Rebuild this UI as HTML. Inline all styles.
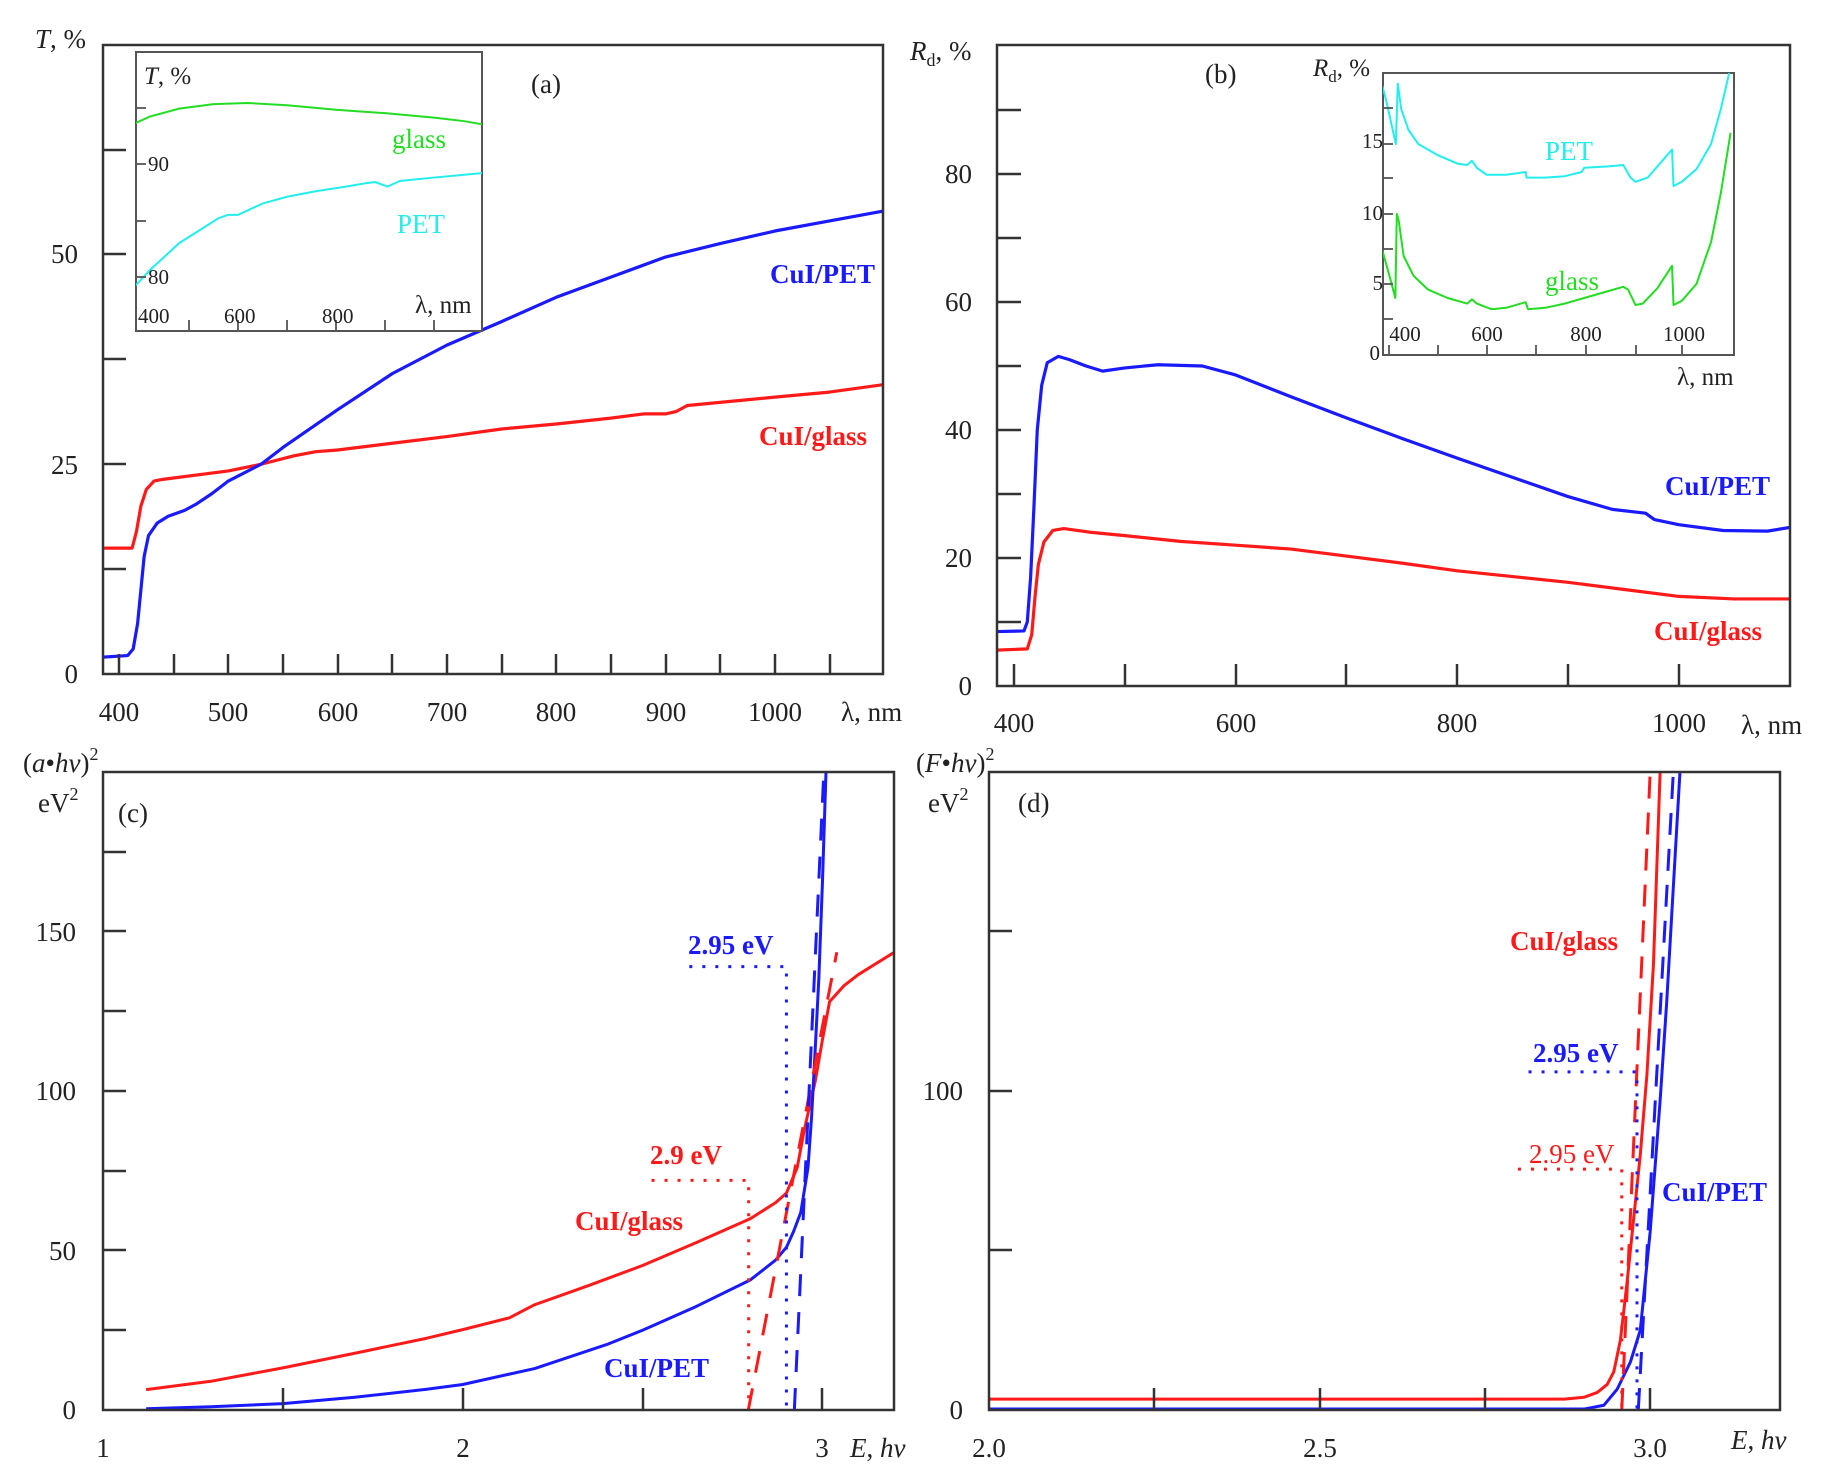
<!DOCTYPE html>
<html><head><meta charset="utf-8"><style>
html,body{margin:0;padding:0;background:#fff}
svg{display:block}
text{font-family:"Liberation Serif",serif;fill:#222}
.t{font-size:27px}
.s{font-size:21px}
.b{font-weight:bold;font-size:27px}
</style></head><body>
<svg width="1833" height="1479" viewBox="0 0 1833 1479" xmlns="http://www.w3.org/2000/svg">
<defs>
<clipPath id="ca"><rect x="103" y="45" width="780" height="629"/></clipPath>
<clipPath id="cai"><rect x="136" y="52" width="346" height="279"/></clipPath>
<clipPath id="cb"><rect x="997" y="45" width="793" height="641"/></clipPath>
<clipPath id="cbi"><rect x="1383" y="73" width="351" height="282"/></clipPath>
<clipPath id="cc"><rect x="103" y="772" width="791" height="638"/></clipPath>
<clipPath id="cd"><rect x="989" y="772" width="791" height="638"/></clipPath>
</defs>

<!-- ============ PANEL A ============ -->
<g clip-path="url(#ca)" fill="none" stroke-linejoin="round">
<g transform="translate(-318.2,674) scale(1.093,-8.39)">
<polyline vector-effect="non-scaling-stroke" stroke="#ff1a1a" stroke-width="3.2" points="384,15 412,15 416,17 420,20 425,22 432,23 440,23.2 500,24.2 530,25 560,26 580,26.5 600,26.7 650,27.5 700,28.3 750,29.2 800,29.8 850,30.5 880,31 900,31 910,31.3 920,32 1000,33 1050,33.6 1100,34.5"/>
<polyline vector-effect="non-scaling-stroke" stroke="#1a1aff" stroke-width="3.2" points="384,2 408,2.2 413,3 417,6 420,10 423,14 427,16.5 435,18 445,18.8 460,19.5 470,20.2 485,21.5 500,23 530,25 550,27 600,31.5 650,35.8 700,39.2 750,42 800,44.9 850,47.3 900,49.7 950,51.3 1000,52.8 1050,54 1100,55.2"/>
</g>
</g>
<rect x="103" y="45" width="780" height="629" fill="none" stroke="#333" stroke-width="2.5"/>
<g stroke="#333" stroke-width="2.5">
<line x1="103" y1="569" x2="126" y2="569"/><line x1="103" y1="464" x2="126" y2="464"/><line x1="103" y1="359" x2="126" y2="359"/><line x1="103" y1="254" x2="126" y2="254"/><line x1="103" y1="150" x2="126" y2="150"/>
<line x1="119" y1="674" x2="119" y2="654"/><line x1="174" y1="674" x2="174" y2="654"/><line x1="228" y1="674" x2="228" y2="654"/><line x1="283" y1="674" x2="283" y2="654"/><line x1="338" y1="674" x2="338" y2="654"/><line x1="392" y1="674" x2="392" y2="654"/><line x1="447" y1="674" x2="447" y2="654"/><line x1="502" y1="674" x2="502" y2="654"/><line x1="556" y1="674" x2="556" y2="654"/><line x1="611" y1="674" x2="611" y2="654"/><line x1="666" y1="674" x2="666" y2="654"/><line x1="720" y1="674" x2="720" y2="654"/><line x1="775" y1="674" x2="775" y2="654"/><line x1="830" y1="674" x2="830" y2="654"/>
</g>
<g class="t" text-anchor="middle">
<text x="119" y="721">400</text><text x="228" y="721">500</text><text x="338" y="721">600</text><text x="447" y="721">700</text><text x="556" y="721">800</text><text x="666" y="721">900</text><text x="775" y="721">1000</text>
</g>
<text class="t" x="841" y="721">λ, nm</text>
<g class="t" text-anchor="end"><text x="78" y="683">0</text><text x="78" y="474">25</text><text x="78" y="263">50</text></g>
<text class="t" x="35" y="48"><tspan font-style="italic">T</tspan>, %</text>
<text class="t" x="531" y="93">(a)</text>
<text class="b" x="770" y="283" fill="#1a1aff" style="fill:#1a1aff">CuI/PET</text>
<text class="b" x="759" y="445" style="fill:#ff1a1a">CuI/glass</text>

<!-- inset a -->
<rect x="136" y="52" width="346" height="279" fill="#fff" stroke="#555" stroke-width="2"/>
<g clip-path="url(#cai)" fill="none">
<g transform="translate(-56,1181) scale(0.49,-11.3)">
<polyline vector-effect="non-scaling-stroke" stroke="#22dd22" stroke-width="2" points="390,93.6 420,94.2 480,94.9 550,95.3 620,95.4 700,95.2 800,94.8 900,94.5 1000,94.1 1060,93.8 1100,93.5"/>
<polyline vector-effect="non-scaling-stroke" stroke="#22eeee" stroke-width="2" points="390,79.2 420,80.6 480,83 560,85.2 580,85.5 600,85.5 650,86.5 700,87.1 760,87.6 820,88 860,88.3 880,88.4 905,88.0 930,88.5 1000,88.8 1100,89.2"/>
</g>
</g>
<g stroke="#555" stroke-width="1.8">
<line x1="136" y1="108" x2="146" y2="108"/><line x1="136" y1="164" x2="146" y2="164"/><line x1="136" y1="221" x2="146" y2="221"/><line x1="136" y1="277" x2="146" y2="277"/>
<line x1="189" y1="331" x2="189" y2="320"/><line x1="238" y1="331" x2="238" y2="320"/><line x1="287" y1="331" x2="287" y2="320"/><line x1="336" y1="331" x2="336" y2="320"/><line x1="385" y1="331" x2="385" y2="320"/><line x1="434" y1="331" x2="434" y2="320"/>
</g>
<g class="s"><text x="148" y="171">90</text><text x="148" y="284">80</text>
<text x="138" y="323">400</text><text x="224" y="323">600</text><text x="322" y="323">800</text></g>
<text class="t" x="415" y="313" style="font-size:25px">λ, nm</text>
<text class="t" x="144" y="84" style="font-size:25px"><tspan font-style="italic">T</tspan>, %</text>
<text class="t" x="392" y="148" style="fill:#22dd22">glass</text>
<text class="t" x="397" y="233" style="fill:#22eeee">PET</text>

<!-- ============ PANEL B ============ -->
<g clip-path="url(#cb)" fill="none" stroke-linejoin="round">
<g transform="translate(570.8,686) scale(1.108,-6.4)">
<polyline vector-effect="non-scaling-stroke" stroke="#ff1a1a" stroke-width="3.2" points="384,5.6 412,5.8 416,8 419,14 422,19 427,22.5 435,24.3 445,24.6 470,24 500,23.5 550,22.6 600,22 650,21.4 700,20.3 750,19.2 800,18 850,17.1 900,16.2 950,15.1 1000,14 1050,13.6 1101,13.6"/>
<polyline vector-effect="non-scaling-stroke" stroke="#1a1aff" stroke-width="3.2" points="384,8.5 409,8.6 412,10 415,17 418,28 421,40 425,47 430,50.5 440,51.5 450,51 465,50 480,49.2 500,49.7 530,50.2 570,50 600,48.6 650,45.2 700,41.9 750,38.7 800,35.6 850,32.6 900,29.6 940,27.6 970,27 978,26 1000,25.2 1040,24.3 1080,24.2 1101,24.8"/>
</g>
</g>
<rect x="997" y="45" width="793" height="641" fill="none" stroke="#333" stroke-width="2.5"/>
<g stroke="#333" stroke-width="2.5">
<line x1="997" y1="622" x2="1021" y2="622"/><line x1="997" y1="558" x2="1021" y2="558"/><line x1="997" y1="494" x2="1021" y2="494"/><line x1="997" y1="430" x2="1021" y2="430"/><line x1="997" y1="366" x2="1021" y2="366"/><line x1="997" y1="302" x2="1021" y2="302"/><line x1="997" y1="238" x2="1021" y2="238"/><line x1="997" y1="174" x2="1021" y2="174"/><line x1="997" y1="110" x2="1021" y2="110"/>
<line x1="1014" y1="686" x2="1014" y2="664"/><line x1="1125" y1="686" x2="1125" y2="664"/><line x1="1236" y1="686" x2="1236" y2="664"/><line x1="1346" y1="686" x2="1346" y2="664"/><line x1="1457" y1="686" x2="1457" y2="664"/><line x1="1568" y1="686" x2="1568" y2="664"/><line x1="1679" y1="686" x2="1679" y2="664"/>
</g>
<g class="t" text-anchor="middle"><text x="1014" y="732">400</text><text x="1236" y="732">600</text><text x="1457" y="732">800</text><text x="1679" y="732">1000</text></g>
<text class="t" x="1741" y="734">λ, nm</text>
<g class="t" text-anchor="end"><text x="972" y="695">0</text><text x="972" y="567">20</text><text x="972" y="439">40</text><text x="972" y="311">60</text><text x="972" y="183">80</text></g>
<text class="t" x="910" y="60"><tspan font-style="italic">R</tspan><tspan font-size="18" dy="6">d</tspan><tspan dy="-6">, %</tspan></text>
<text class="t" x="1205" y="83">(b)</text>
<text class="b" x="1665" y="495" style="fill:#1a1aff">CuI/PET</text>
<text class="b" x="1654" y="640" style="fill:#ff1a1a">CuI/glass</text>

<!-- inset b -->
<rect x="1383" y="73" width="351" height="282" fill="#fff" stroke="#555" stroke-width="2"/>
<g clip-path="url(#cbi)" fill="none" stroke-linejoin="round">
<g transform="translate(1193.8,354) scale(0.488,-14)">
<polyline vector-effect="non-scaling-stroke" stroke="#22eeee" stroke-width="2" points="386,19.2 395,18 414,15 418,19.3 425,17.5 440,16 460,15 500,14.2 540,13.6 560,13.5 570,13.8 580,13.3 600,12.8 640,12.8 680,13 682,12.6 720,12.6 760,12.7 795,13 800,13.3 850,13.4 880,13.5 895,12.6 905,12.3 930,12.6 970,14.2 980,14.6 983,12 1000,12.3 1030,13.2 1060,15 1080,17.5 1100,20.5"/>
<polyline vector-effect="non-scaling-stroke" stroke="#22dd22" stroke-width="2" points="384,7.7 400,5.7 413,4 416,10 420,9.5 430,7 450,5.6 480,4.6 520,4 560,3.6 570,3.9 580,3.6 610,3.2 640,3.3 680,3.7 685,3.2 720,3.3 760,3.6 800,4 850,4.5 880,4.8 890,4.6 905,3.5 920,3.6 950,4.7 980,6.3 983,3.5 1000,3.8 1030,5 1060,8 1080,11.5 1100,15.8"/>
</g>
</g>
<g stroke="#555" stroke-width="1.8">
<line x1="1383" y1="319" x2="1393" y2="319"/><line x1="1383" y1="284" x2="1393" y2="284"/><line x1="1383" y1="249" x2="1393" y2="249"/><line x1="1383" y1="214" x2="1393" y2="214"/><line x1="1383" y1="178" x2="1393" y2="178"/><line x1="1383" y1="144" x2="1393" y2="144"/><line x1="1383" y1="108" x2="1393" y2="108"/>
<line x1="1389" y1="355" x2="1389" y2="345"/><line x1="1438" y1="355" x2="1438" y2="345"/><line x1="1487" y1="355" x2="1487" y2="345"/><line x1="1536" y1="355" x2="1536" y2="345"/><line x1="1586" y1="355" x2="1586" y2="345"/><line x1="1636" y1="355" x2="1636" y2="345"/><line x1="1682" y1="355" x2="1682" y2="345"/>
</g>
<g class="s" text-anchor="end"><text x="1380" y="360">0</text><text x="1383" y="290">5</text><text x="1383" y="220">10</text><text x="1383" y="148">15</text></g>
<g class="s" text-anchor="middle"><text x="1405" y="341">400</text><text x="1487" y="341">600</text><text x="1586" y="341">800</text><text x="1684" y="341">1000</text></g>
<text class="t" x="1677" y="385" style="font-size:25px">λ, nm</text>
<text class="t" x="1313" y="76" style="font-size:25px"><tspan font-style="italic">R</tspan><tspan font-size="17" dy="6">d</tspan><tspan dy="-6">, %</tspan></text>
<text class="t" x="1545" y="160" style="fill:#22eeee">PET</text>
<text class="t" x="1545" y="290" style="fill:#22dd22">glass</text>

<!-- ============ PANEL C ============ -->
<g clip-path="url(#cc)" fill="none" stroke-linejoin="round">
<g transform="translate(-256.7,1410) scale(359.7,-3.19)">
<polyline vector-effect="non-scaling-stroke" stroke="#ff1a1a" stroke-width="3" points="1.12,6.4 1.3,9 1.5,13.2 1.7,17.8 1.9,22.5 2.0,25.2 2.13,28.9 2.2,33 2.35,39 2.5,45.3 2.65,52.5 2.8,60 2.87,65 2.9,68 2.93,76 2.95,88 2.98,103 3.0,116 3.02,128 3.06,133 3.1,136.5 3.15,140 3.2,143.5 3.23,145"/>
<polyline vector-effect="non-scaling-stroke" stroke="#1a1aff" stroke-width="3" points="1.12,0.4 1.3,1 1.5,2 1.7,4 1.9,6.5 2.0,8 2.2,13 2.4,20.5 2.5,25 2.65,32.5 2.8,40.8 2.87,47 2.9,51 2.92,56 2.94,62 2.96,76 2.97,92 2.98,113 2.99,135 3.0,165 3.01,200 3.02,240"/>
<line vector-effect="non-scaling-stroke" stroke="#ff1a1a" stroke-width="3" stroke-dasharray="22,16" x1="2.794" y1="0" x2="3.04" y2="143.5"/>
<line vector-effect="non-scaling-stroke" stroke="#1a1aff" stroke-width="3" stroke-dasharray="22,16" x1="2.922" y1="0" x2="3.004" y2="200"/>
<polyline vector-effect="non-scaling-stroke" stroke="#ff1a1a" stroke-width="3" stroke-dasharray="3,10" points="2.525,72 2.795,72 2.795,0"/>
<polyline vector-effect="non-scaling-stroke" stroke="#1a1aff" stroke-width="3" stroke-dasharray="3,10" points="2.63,139 2.9,139 2.9,0"/>
</g>
</g>
<rect x="103" y="772" width="791" height="638" fill="none" stroke="#333" stroke-width="2.5"/>
<g stroke="#333" stroke-width="2.5">
<line x1="103" y1="1330" x2="126" y2="1330"/><line x1="103" y1="1250" x2="126" y2="1250"/><line x1="103" y1="1171" x2="126" y2="1171"/><line x1="103" y1="1091" x2="126" y2="1091"/><line x1="103" y1="1011" x2="126" y2="1011"/><line x1="103" y1="931" x2="126" y2="931"/><line x1="103" y1="852" x2="126" y2="852"/>
<line x1="283" y1="1410" x2="283" y2="1388"/><line x1="463" y1="1410" x2="463" y2="1388"/><line x1="643" y1="1410" x2="643" y2="1388"/><line x1="822" y1="1410" x2="822" y2="1388"/>
</g>
<g class="t" text-anchor="middle"><text x="103" y="1457">1</text><text x="463" y="1457">2</text><text x="822" y="1457">3</text></g>
<text class="t" x="850" y="1457"><tspan font-style="italic">E</tspan>, <tspan font-style="italic">hν</tspan></text>
<g class="t" text-anchor="end"><text x="76" y="1419">0</text><text x="76" y="1260">50</text><text x="76" y="1100">100</text><text x="76" y="941">150</text></g>
<text class="t" x="23" y="772">(<tspan font-style="italic">a</tspan>•<tspan font-style="italic">hν</tspan>)<tspan font-size="18" dy="-12">2</tspan></text>
<text class="t" x="38" y="812">eV<tspan font-size="18" dy="-12">2</tspan></text>
<text class="t" x="118" y="822">(c)</text>
<text class="b" x="688" y="954" style="fill:#1a1aff">2.95 eV</text>
<text class="b" x="650" y="1164" style="fill:#ff1a1a">2.9 eV</text>
<text class="b" x="575" y="1230" style="fill:#ff1a1a">CuI/glass</text>
<text class="b" x="604" y="1377" style="fill:#1a1aff">CuI/PET</text>

<!-- ============ PANEL D ============ -->
<g clip-path="url(#cd)" fill="none" stroke-linejoin="round">
<g transform="translate(-333.4,1410) scale(661.2,-3.19)">
<polyline vector-effect="non-scaling-stroke" stroke="#ff1a1a" stroke-width="3" points="2.0,3.4 2.5,3.4 2.87,3.4 2.9,4 2.92,5.5 2.935,8 2.945,12 2.955,22 2.965,40 2.975,60 2.985,80 2.995,105 3.005,140 3.015,200 3.02,240"/>
<polyline vector-effect="non-scaling-stroke" stroke="#1a1aff" stroke-width="3" points="2.0,0.3 2.9,0.3 2.93,1.5 2.95,6.5 2.97,15 2.985,25 3.0,56 3.015,97 3.025,128 3.045,200 3.05,220"/>
<line vector-effect="non-scaling-stroke" stroke="#ff1a1a" stroke-width="3" stroke-dasharray="22,14" x1="2.957" y1="0" x2="3.0" y2="200"/>
<line vector-effect="non-scaling-stroke" stroke="#1a1aff" stroke-width="3" stroke-dasharray="22,14" x1="2.982" y1="0" x2="3.035" y2="200"/>
<polyline vector-effect="non-scaling-stroke" stroke="#ff1a1a" stroke-width="3" stroke-dasharray="3,10" points="2.8,75.5 2.957,75.5 2.957,0"/>
<polyline vector-effect="non-scaling-stroke" stroke="#1a1aff" stroke-width="3" stroke-dasharray="3,10" points="2.816,106 2.98,106 2.98,0"/>
</g>
</g>
<rect x="989" y="772" width="791" height="638" fill="none" stroke="#333" stroke-width="2.5"/>
<g stroke="#333" stroke-width="2.5">
<line x1="989" y1="1250" x2="1012" y2="1250"/><line x1="989" y1="1091" x2="1012" y2="1091"/><line x1="989" y1="931" x2="1012" y2="931"/>
<line x1="1154" y1="1410" x2="1154" y2="1388"/><line x1="1320" y1="1410" x2="1320" y2="1388"/><line x1="1485" y1="1410" x2="1485" y2="1388"/><line x1="1650" y1="1410" x2="1650" y2="1388"/>
</g>
<g class="t" text-anchor="middle"><text x="989" y="1457">2.0</text><text x="1320" y="1457">2.5</text><text x="1650" y="1457">3.0</text></g>
<text class="t" x="1731" y="1449"><tspan font-style="italic">E</tspan>, <tspan font-style="italic">hν</tspan></text>
<g class="t" text-anchor="end"><text x="963" y="1419">0</text><text x="963" y="1100">100</text></g>
<text class="t" x="916" y="772">(<tspan font-style="italic">F</tspan>•<tspan font-style="italic">hν</tspan>)<tspan font-size="18" dy="-12">2</tspan></text>
<text class="t" x="928" y="812">eV<tspan font-size="18" dy="-12">2</tspan></text>
<text class="t" x="1018" y="812">(d)</text>
<text class="b" x="1510" y="950" style="fill:#ff1a1a">CuI/glass</text>
<text class="b" x="1533" y="1062" style="fill:#1a1aff">2.95 eV</text>
<text class="t" x="1529" y="1163" style="fill:#ff1a1a">2.95 eV</text>
<text class="b" x="1662" y="1201" style="fill:#1a1aff">CuI/PET</text>
</svg>
</body></html>
